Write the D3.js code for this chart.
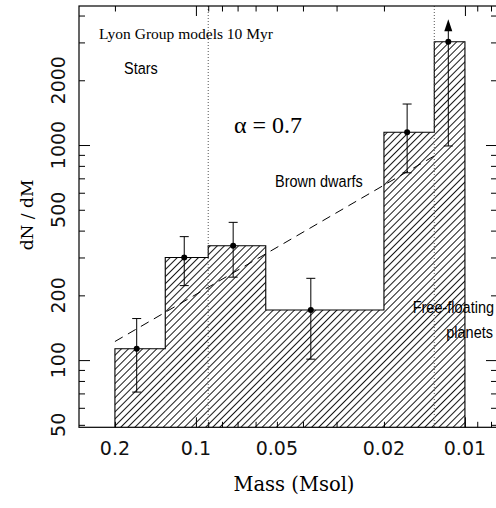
<!DOCTYPE html>
<html>
<head>
<meta charset="utf-8">
<script src="https://cdn.jsdelivr.net/npm/d3@7"></script>
<style>
  body { margin: 0; background: #fff; }
</style>
</head>
<body>
<div class="chart"></div>
<script>
// histogram bins (mass, Msol) and dN/dM per bin
const binEdges = [0.2, 0.13, 0.09, 0.055, 0.02, 0.013, 0.01];
const counts = [113, 300, 340, 171, 1146, 3020];

// points with error bars
const ptMass = [0.166, 0.1105, 0.0727, 0.0374, 0.0164, 0.01153];
const errLo = [71, 222, 243, 101, 743, 990];
const errHi = [156, 375, 437, 240, 1551, 3840];
const lowerLimit = [false, false, false, false, false, true];

// alpha = 0.7 power law, end points
const fitMass = [0.2, 0.013];
const fitVal = [122, 890];

// boundaries (dotted)
const limits = [0.09, 0.013];

// ticks
const xMajor = [0.1, 0.01];
const xMinor = [0.2, 0.09, 0.08, 0.07, 0.06, 0.05, 0.04, 0.03, 0.02, 0.009, 0.008];
const xLabels = [0.2, 0.1, 0.05, 0.02, 0.01];
const yMajor = [100, 1000];
const yMinor = [50, 60, 70, 80, 90, 200, 300, 400, 500, 600, 700, 800, 900, 2000, 3000, 4000];
const yLabels = [50, 100, 200, 500, 1000, 2000];

const W = 496, H = 508;
const mLeft = 79, mRight = 497, mTop = 6, mBottom = 427.3;

const svg = d3.select(".chart").append("svg").attr("width", W).attr("height", H);

const x = d3.scaleLog().domain([0.272, 0.0076]).range([mLeft, mRight]);
const y = d3.scaleLog().domain([48.7, 4430]).range([mBottom, mTop]);

// hatch
svg.append("defs")
  .append("pattern")
  .attr("id", "hatch")
  .attr("patternUnits", "userSpaceOnUse")
  .attr("width", 5)
  .attr("height", 5)
  .attr("patternTransform", "rotate(45)")
  .append("line")
  .attr("x1", 2.5).attr("y1", 0)
  .attr("x2", 2.5).attr("y2", 5)
  .attr("stroke", "#000")
  .attr("stroke-width", 0.9);

const bins = counts.map((c, i) => ({ m0: binEdges[i], m1: binEdges[i + 1], c }));

svg.append("g")
  .selectAll("rect")
  .data(bins)
  .join("rect")
  .attr("x", d => x(d.m0))
  .attr("width", d => x(d.m1) - x(d.m0))
  .attr("y", d => y(d.c))
  .attr("height", d => mBottom - y(d.c))
  .attr("fill", "url(#hatch)");

// step outline
const outline = [[binEdges[0], y.domain()[0]]];
bins.forEach(d => { outline.push([d.m0, d.c]); outline.push([d.m1, d.c]); });
outline.push([binEdges[binEdges.length - 1], y.domain()[0]]);

svg.append("path")
  .attr("d", d3.line().x(d => x(d[0])).y(d => y(d[1]))(outline))
  .attr("fill", "none")
  .attr("stroke", "#000")
  .attr("stroke-width", 1.1);

// dotted limits
svg.append("g")
  .selectAll("line")
  .data(limits)
  .join("line")
  .attr("x1", d => x(d)).attr("x2", d => x(d))
  .attr("y1", mTop).attr("y2", mBottom)
  .attr("stroke", "#555")
  .attr("stroke-width", 1)
  .attr("stroke-dasharray", "1,2");

// dashed fit
svg.append("line")
  .attr("x1", x(fitMass[0])).attr("y1", y(fitVal[0]))
  .attr("x2", x(fitMass[1])).attr("y2", y(fitVal[1]))
  .attr("stroke", "#000")
  .attr("stroke-width", 1)
  .attr("stroke-dasharray", "9,6");

// error bars
const pts = ptMass.map((m, i) => ({ m, v: counts[i], lo: errLo[i], hi: errHi[i], lim: lowerLimit[i] }));
const eb = svg.append("g").attr("stroke", "#000").attr("stroke-width", 1);

eb.selectAll(".bar")
  .data(pts)
  .join("line")
  .attr("x1", d => x(d.m)).attr("x2", d => x(d.m))
  .attr("y1", d => y(d.lo))
  .attr("y2", d => d.lim ? y(d.hi) + 11 : y(d.hi));

eb.selectAll(".capLo")
  .data(pts)
  .join("line")
  .attr("x1", d => x(d.m) - 4.5).attr("x2", d => x(d.m) + 4.5)
  .attr("y1", d => y(d.lo)).attr("y2", d => y(d.lo));

eb.selectAll(".capHi")
  .data(pts.filter(d => !d.lim))
  .join("line")
  .attr("x1", d => x(d.m) - 4.5).attr("x2", d => x(d.m) + 4.5)
  .attr("y1", d => y(d.hi)).attr("y2", d => y(d.hi));

svg.append("g")
  .selectAll("path")
  .data(pts.filter(d => d.lim))
  .join("path")
  .attr("d", d => {
    const cx = x(d.m), ty = y(d.hi);
    return `M${cx},${ty}L${cx - 4},${ty + 12}L${cx + 4},${ty + 12}Z`;
  })
  .attr("fill", "#000");

svg.append("g")
  .selectAll("circle")
  .data(pts)
  .join("circle")
  .attr("cx", d => x(d.m))
  .attr("cy", d => y(d.v))
  .attr("r", 3)
  .attr("fill", "#000");

// axes (ticks inward)
function ticks(axis, vals, size, tr) {
  svg.append("g")
    .attr("transform", tr)
    .call(axis.tickValues(vals).tickSize(size).tickSizeOuter(0).tickFormat(""))
    .call(g => g.select(".domain").remove());
}
ticks(d3.axisBottom(x), xMajor, -10, `translate(0,${mBottom})`);
ticks(d3.axisBottom(x), xMinor, -5.5, `translate(0,${mBottom})`);
ticks(d3.axisTop(x), xMajor, -10, `translate(0,${mTop})`);
ticks(d3.axisTop(x), xMinor, -5.5, `translate(0,${mTop})`);
ticks(d3.axisLeft(y), yMajor, -11, `translate(${mLeft},0)`);
ticks(d3.axisLeft(y), yMinor, -6, `translate(${mLeft},0)`);
ticks(d3.axisRight(y), yMajor, -11, `translate(${mRight},0)`);
ticks(d3.axisRight(y), yMinor, -6, `translate(${mRight},0)`);

svg.append("rect")
  .attr("x", mLeft).attr("y", mTop)
  .attr("width", mRight - mLeft).attr("height", mBottom - mTop)
  .attr("fill", "none")
  .attr("stroke", "#000")
  .attr("stroke-width", 1.2);

// tick labels
svg.append("g")
  .selectAll("text")
  .data(xLabels)
  .join("text")
  .attr("x", d => x(d))
  .attr("y", 455)
  .attr("text-anchor", "middle")
  .attr("font-family", "DejaVu Sans")
  .attr("font-size", 19)
  .attr("fill", "#111")
  .text(d => d);

svg.append("g")
  .selectAll("text")
  .data(yLabels)
  .join("text")
  .attr("transform", d => `translate(65,${y(d)}) rotate(-90)`)
  .attr("text-anchor", "middle")
  .attr("font-family", "DejaVu Sans")
  .attr("font-size", 19)
  .attr("fill", "#111")
  .text(d => d);

// axis titles
svg.append("text")
  .attr("x", 294).attr("y", 491)
  .attr("text-anchor", "middle")
  .attr("font-family", "DejaVu Serif")
  .attr("font-size", 19.5)
  .text("Mass (Msol)");

svg.append("text")
  .attr("transform", "translate(33,215) rotate(-90)")
  .attr("text-anchor", "middle")
  .attr("font-family", "DejaVu Serif")
  .attr("font-size", 17)
  .text("dN / dM");

// annotations
svg.append("text")
  .attr("x", 99).attr("y", 39)
  .attr("font-family", "Liberation Serif")
  .attr("font-size", 15.5)
  .text("Lyon Group models 10 Myr");

svg.append("text")
  .attr("x", 234).attr("y", 133)
  .attr("font-family", "Liberation Serif")
  .attr("font-size", 24)
  .text("α = 0.7");

const sans = [
  { t: "Stars", x: 124, y: 74, a: "start" },
  { t: "Brown dwarfs", x: 275, y: 187, a: "start" },
  { t: "Free-floating", x: 494, y: 313, a: "end" },
  { t: "planets", x: 493, y: 338, a: "end" }
];
svg.append("g")
  .selectAll("text")
  .data(sans)
  .join("text")
  .attr("transform", d => `translate(${d.x},${d.y}) scale(1,1.12)`)
  .attr("text-anchor", d => d.a)
  .attr("font-family", "Liberation Sans")
  .attr("font-size", 14.5)
  .text(d => d.t);
</script>
</body>
</html>
